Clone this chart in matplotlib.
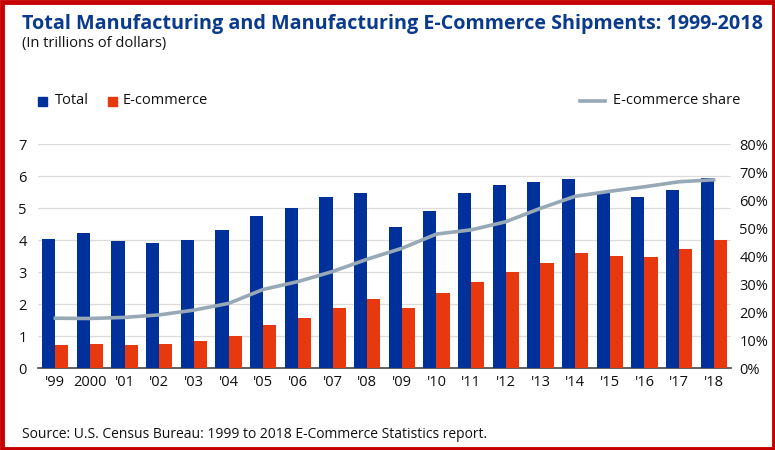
import matplotlib
matplotlib.use("Agg")
import matplotlib.pyplot as plt
from matplotlib.patches import Rectangle
from matplotlib.lines import Line2D
import numpy as np

plt.rcParams['font.family'] = ['Open Sans', 'DejaVu Sans']

years = ["'99", "2000", "'01", "'02", "'03", "'04", "'05", "'06", "'07", "'08",
         "'09", "'10", "'11", "'12", "'13", "'14", "'15", "'16", "'17", "'18"]
total = [4.03, 4.21, 3.98, 3.92, 4.01, 4.31, 4.75, 5.02, 5.34, 5.48,
         4.42, 4.92, 5.49, 5.74, 5.81, 5.90, 5.49, 5.35, 5.58, 5.96]
ecommerce = [0.71, 0.75, 0.71, 0.74, 0.83, 0.99, 1.34, 1.56, 1.87, 2.15,
             1.89, 2.34, 2.69, 2.99, 3.30, 3.61, 3.49, 3.46, 3.73, 4.00]
share = [17.8, 17.7, 18.1, 19.0, 20.7, 23.1, 28.1, 30.9, 34.5, 38.9,
         42.8, 47.9, 49.4, 52.3, 57.1, 61.4, 63.2, 64.8, 66.6, 67.3]
left_ticks = [0, 1, 2, 3, 4, 5, 6, 7]
right_ticks = [0, 10, 20, 30, 40, 50, 60, 70, 80]

NAVY = '#00309A'
ORANGE = '#E8380D'
LINEC = '#97A8B6'
TITLEC = '#0A3A8C'

W, H = 775, 450
fig = plt.figure(figsize=(W/100, H/100), dpi=100)
fig.patch.set_facecolor('white')

ax = fig.add_axes([38/W, 1-368/H, (731-38)/W, (368-144.3)/H])
x = np.arange(len(years))
bw = 0.38
ax.bar(x - bw/2, total, width=bw, color=NAVY, zorder=3)
ax.bar(x + bw/2, ecommerce, width=bw, color=ORANGE, zorder=3)
ax.set_xlim(-0.5, len(years) - 0.5)
ax.set_ylim(0, 7)
ax.set_yticks(left_ticks)
ax.set_yticklabels([str(v) for v in left_ticks])
ax.grid(axis='y', color='#DCDCDC', linewidth=0.9, zorder=0)
for s in ['top', 'right', 'left']:
    ax.spines[s].set_visible(False)
ax.spines['bottom'].set_color('#444444')
ax.spines['bottom'].set_linewidth(1.2)
ax.set_xticks(x)
ax.set_xticklabels(years)
ax.tick_params(axis='both', length=0, labelsize=10.5, colors='#111111')
ax.tick_params(axis='y', pad=11)
ax.tick_params(axis='x', pad=5)
for lab in ax.get_yticklabels():
    lab.set_horizontalalignment('center')

ax2 = ax.twinx()
ax2.plot(x, share, color=LINEC, linewidth=2.6, zorder=4)
ax2.set_ylim(0, 80)
ax2.set_yticks(right_ticks)
ax2.set_yticklabels([f'{v}%' for v in right_ticks])
ax2.tick_params(axis='y', length=0, labelsize=10.5, colors='#111111', pad=6)
for s in ['top', 'right', 'left', 'bottom']:
    ax2.spines[s].set_visible(False)

fig.text(22/W, 1-24/H, 'Total Manufacturing and Manufacturing E-Commerce Shipments: 1999-2018',
         fontsize=14.2, fontweight='bold', color=TITLEC, va='center', ha='left')
fig.text(22/W, 1-44/H, '(In trillions of dollars)', fontsize=10.5, color='#111111',
         va='center', ha='left')

# legend
ly = 1 - 101/H
fig.patches.append(Rectangle((38/W, ly - 4.5/H), 9/W, 9/H, transform=fig.transFigure,
                             color=NAVY, figure=fig))
fig.text(55/W, ly, 'Total', fontsize=10.5, color='#111111', va='center', ha='left')
fig.patches.append(Rectangle((108/W, ly - 4.5/H), 9/W, 9/H, transform=fig.transFigure,
                             color=ORANGE, figure=fig))
fig.text(123/W, ly, 'E-commerce', fontsize=10.5, color='#111111', va='center', ha='left')
fig.lines.append(Line2D([580/W, 605/W], [ly, ly], transform=fig.transFigure,
                        color=LINEC, linewidth=2.6, figure=fig))
fig.text(613/W, ly, 'E-commerce share', fontsize=10.5, color='#111111', va='center', ha='left')

fig.text(22/W, 1-434/H, 'Source: U.S. Census Bureau: 1999 to 2018 E-Commerce Statistics report.',
         fontsize=10, color='#111111', va='center', ha='left')

# red frame
fig.patches.append(Rectangle((1.5/W, 1.5/H), (W-3)/W, (H-3)/H, transform=fig.transFigure,
                             fill=False, edgecolor='#C40000', linewidth=3.5, figure=fig))

fig.savefig('out.png', dpi=100)
